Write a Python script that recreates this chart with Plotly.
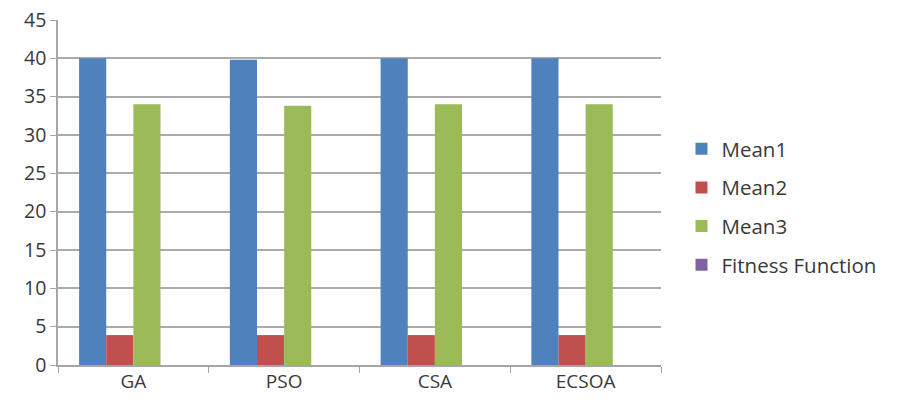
import plotly.graph_objects as go

algorithms = ["GA", "PSO", "CSA", "ECSOA"]
mean1 = [40.0, 39.8, 40.0, 40.0]
mean2 = [3.9, 3.9, 3.9, 3.9]
mean3 = [34.0, 33.8, 34.0, 34.0]
fitness_function = [0.0, 0.0, 0.0, 0.0]

series_names = ["Mean1", "Mean2", "Mean3", "Fitness Function"]
series_values = [mean1, mean2, mean3, fitness_function]
series_colors = ["#4F81BD", "#C0504D", "#9BBB59", "#8064A2"]

y_ticks = [0, 5, 10, 15, 20, 25, 30, 35, 40, 45]

fig = go.Figure()
for i, (name, vals, col) in enumerate(zip(series_names, series_values, series_colors)):
    fig.add_trace(go.Bar(
        x=algorithms, y=vals, name=name,
        marker=dict(color=col, line=dict(width=0)),
        legendgroup=f"g{i}",
    ))

font_family = "'Open Sans', Lato, sans-serif"
text_color = "#3A3A3A"
fig.update_layout(
    width=900, height=405,
    margin=dict(l=58, r=239, t=20, b=40, autoexpand=False),
    paper_bgcolor="white", plot_bgcolor="white",
    barmode="group", bargap=0.28, bargroupgap=0,
    font=dict(family=font_family, size=18, color=text_color),
    legend=dict(
        x=1.034, xanchor="left", y=0.458, yanchor="middle",
        font=dict(size=20.5, color=text_color),
        tracegroupgap=9, itemwidth=30,
        bgcolor="rgba(0,0,0,0)",
    ),
    xaxis=dict(
        automargin=False,
        showline=True, linecolor="#A6A6A6", linewidth=1.5,
        ticks="outside", tickson="boundaries", ticklen=6, tickcolor="#A6A6A6",
        tickfont=dict(size=19, color=text_color),
        ticklabelstandoff=-2,
        showgrid=False,
    ),
    yaxis=dict(
        automargin=False,
        range=[0, 45], tickvals=y_ticks,
        showline=True, linecolor="#A6A6A6", linewidth=1.5,
        ticks="outside", ticklen=6, tickcolor="#A6A6A6",
        showgrid=True, gridcolor="#ABABAB", gridwidth=1.5,
        tickfont=dict(size=19.5, color=text_color),
        zeroline=False,
    ),
)

fig.write_html("out.html")
